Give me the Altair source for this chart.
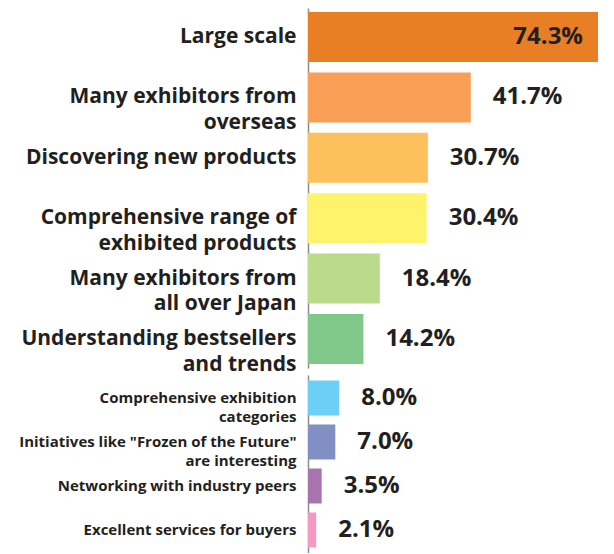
import altair as alt
import pandas as pd

top_labels = [
    "Large scale",
    "Many exhibitors from|overseas",
    "Discovering new products",
    "Comprehensive range of|exhibited products",
    "Many exhibitors from|all over Japan",
    "Understanding bestsellers|and trends",
]
top_values = [74.3, 41.7, 30.7, 30.4, 18.4, 14.2]
top_colors = ["#E97F25", "#F89E55", "#FDC15B", "#FFF36C", "#BCDB8A", "#80C88A"]

bottom_labels = [
    "Comprehensive exhibition|categories",
    'Initiatives like "Frozen of the Future"|are interesting',
    "Networking with industry peers",
    "Excellent services for buyers",
]
bottom_values = [8.0, 7.0, 3.5, 2.1]
bottom_colors = ["#6BCFF6", "#818FC5", "#A874B0", "#F49AC1"]

FONT = "Open Sans"
INK = "#231f20"
X_MAX = 74.3


def panel(labels, values, colors, height, p_inner, p_outer, label_size, line_height):
    df = pd.DataFrame({"item": labels, "value": values})
    df["text"] = [f"{v:.1f}%" for v in values]
    y = alt.Y(
        "item:N",
        sort=labels,
        title=None,
        scale=alt.Scale(paddingInner=p_inner, paddingOuter=p_outer),
        axis=alt.Axis(
            labelExpr="split(datum.label, '|')",
            labelFontSize=label_size,
            labelLineHeight=line_height,
            labelFont=FONT,
            labelFontWeight="bold",
            labelColor=INK,
            labelPadding=12,
            labelLimit=300,
            ticks=False,
            grid=False,
            domainColor="#8c8c8c",
            domainWidth=1.5,
            minExtent=300,
            maxExtent=300,
        ),
    )
    x = alt.X("value:Q", scale=alt.Scale(domain=[0, X_MAX], nice=False), axis=None)
    base = alt.Chart(df).encode(y=y, x=x)
    bars = base.mark_bar().encode(
        color=alt.Color("item:N", scale=alt.Scale(domain=labels, range=colors), legend=None)
    )
    inside = base.transform_filter("datum.value > 50").mark_text(
        align="right", baseline="middle", dx=-15, font=FONT, fontWeight="bold",
        fontSize=24, color=INK
    ).encode(text="text:N")
    outside = base.transform_filter("datum.value <= 50").mark_text(
        align="left", baseline="middle", dx=22, font=FONT, fontWeight="bold",
        fontSize=24, color=INK
    ).encode(text="text:N")
    return alt.layer(bars, inside, outside).properties(width=290, height=height)


top = panel(top_labels, top_values, top_colors, 360, 0.172, 0.066, 21, 25.5)
bottom = panel(bottom_labels, bottom_values, bottom_colors, 178, 0.2045, 0.125, 15, 18.5)

chart = (
    alt.vconcat(top, bottom, spacing=0)
    .resolve_scale(x="independent", y="independent", color="independent")
    .properties(padding=0)
    .configure_view(stroke=None)
)

chart.save("out.html", embed_options={"renderer": "svg", "actions": False})
